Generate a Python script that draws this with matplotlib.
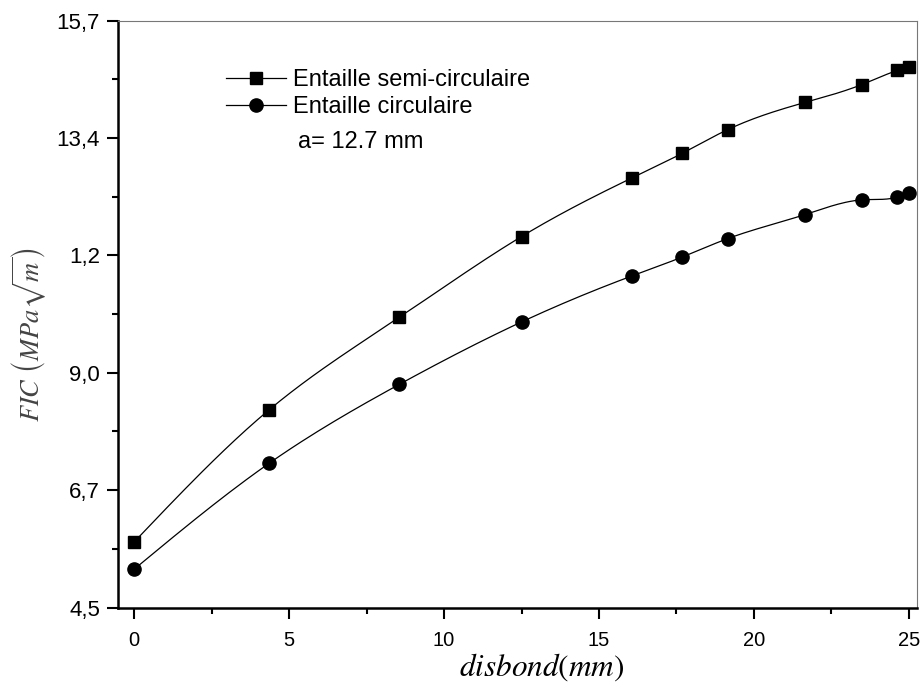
import numpy as np
import matplotlib
matplotlib.use('Agg')
import matplotlib.pyplot as plt
from matplotlib.lines import Line2D
from matplotlib.ticker import MultipleLocator

plt.rcParams['font.family'] = ['Liberation Sans', 'DejaVu Sans']
plt.rcParams['mathtext.fontset'] = 'stix'

# valeurs
disbond = [0.0, 4.35, 8.56, 12.5, 16.07, 17.69, 19.15, 21.65, 23.48, 24.62, 25.0]
fic_semi = [5.75, 8.27, 10.04, 11.58, 12.70, 13.17, 13.62, 14.14, 14.48, 14.75, 14.82]
fic_circ = [5.23, 7.25, 8.76, 9.95, 10.83, 11.19, 11.54, 12.00, 12.28, 12.33, 12.41]

y_ticks = [4.5, 6.74, 8.98, 11.22, 13.46, 15.7]
y_labels = ['4,5', '6,7', '9,0', '1,2', '13,4', '15,7']


def spline(x, y, n=25):
    # spline cubique naturelle pour tracer la courbe entre les points
    x = np.asarray(x, float)
    y = np.asarray(y, float)
    k = len(x)
    h = np.diff(x)
    A = np.zeros((k, k))
    b = np.zeros(k)
    A[0, 0] = A[-1, -1] = 1
    for i in range(1, k - 1):
        A[i, i - 1] = h[i - 1]
        A[i, i] = 2 * (h[i - 1] + h[i])
        A[i, i + 1] = h[i]
        b[i] = 6 * ((y[i + 1] - y[i]) / h[i] - (y[i] - y[i - 1]) / h[i - 1])
    M = np.linalg.solve(A, b)
    xs, ys = [], []
    for i in range(k - 1):
        t = np.linspace(x[i], x[i + 1], n)
        a = x[i + 1] - t
        c = t - x[i]
        s = (M[i] * a**3 + M[i + 1] * c**3) / (6 * h[i]) \
            + (y[i] / h[i] - M[i] * h[i] / 6) * a \
            + (y[i + 1] / h[i] - M[i + 1] * h[i] / 6) * c
        xs.append(t)
        ys.append(s)
    return np.concatenate(xs), np.concatenate(ys)


fig = plt.figure(figsize=(9.24, 6.87), dpi=100)
ax = fig.add_axes([0.1277, 0.1157, 0.8647, 0.8542])

for yv, mk, ms in [(fic_semi, 's', 8.5), (fic_circ, 'o', 9.5)]:
    xs, ys = spline(disbond, yv)
    ax.plot(xs, ys, color='black', lw=0.9)
    ax.plot(disbond, yv, linestyle='none', marker=mk, ms=ms, color='black')

ax.set_xlim(-0.52, 25.26)
ax.set_ylim(4.5, 15.7)
ax.xaxis.set_major_locator(MultipleLocator(5))
ax.xaxis.set_minor_locator(MultipleLocator(2.5))
ax.set_yticks(y_ticks)
ax.set_yticklabels(y_labels)
ax.set_yticks([5.62, 7.86, 10.1, 12.34, 14.58], minor=True)

ax.tick_params(which='major', direction='out', length=8, width=1.5)
ax.tick_params(axis='x', which='major', pad=9, labelsize=14.5)
ax.tick_params(axis='y', which='major', pad=5, labelsize=16)
ax.tick_params(which='minor', direction='out', length=4.5, width=1.5)
ax.tick_params(top=False, right=False)

for s in ['left', 'bottom']:
    ax.spines[s].set_linewidth(1.8)
for s in ['top', 'right']:
    ax.spines[s].set_linewidth(0.8)
    ax.spines[s].set_color('#777777')

ax.set_xlabel(r'$disbond(mm)$', fontsize=22.5)
ax.xaxis.set_label_coords(0.53, -0.075)
ax.xaxis.label.set_va('top')
ax.set_ylabel(r'$FIC\ \left(MPa\sqrt{m}\right)$', fontsize=19, color='#444444')
ax.yaxis.set_label_coords(-0.087, 0.465)

handles = [Line2D([], [], color='black', lw=0.9, marker='s', ms=8.5),
           Line2D([], [], color='black', lw=0.9, marker='o', ms=9.5)]
ax.legend(handles, ['Entaille semi-circulaire', 'Entaille circulaire'],
          loc='upper left', bbox_to_anchor=(0.135, 0.918), frameon=False,
          fontsize=17, handlelength=2.55, handletextpad=0.3, labelspacing=0.22,
          borderpad=0, borderaxespad=0)
ax.text(0.225, 0.794, 'a= 12.7 mm', transform=ax.transAxes, fontsize=17, va='center')

fig.savefig('out.png', dpi=100)
